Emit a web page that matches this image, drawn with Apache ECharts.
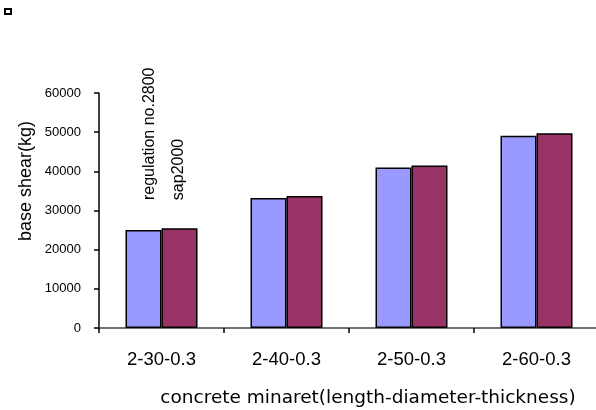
<!DOCTYPE html>
<html>
<head>
<meta charset="utf-8">
<script src="https://cdn.jsdelivr.net/npm/echarts@6/dist/echarts.min.js"></script>
<style>
  html, body { margin: 0; padding: 0; background: #fff; }
  #chart { width: 596px; height: 410px; }
</style>
</head>
<body>
<div id="chart"></div>
<script>
// Minaret configurations (length-diameter-thickness)
const categories = ['2-30-0.3', '2-40-0.3', '2-50-0.3', '2-60-0.3'];
// Base shear (kg) by method
const regulationValues = [25000, 33200, 41000, 49100];
const sapValues = [25500, 33700, 41500, 49700];
const seriesNames = ['regulation no.2800', 'sap2000'];
const yTicks = { min: 0, max: 60000, interval: 10000 };

const chart = echarts.init(document.getElementById('chart'), null, { renderer: 'canvas' });

// Series name is written vertically above the first bar of each series
function withNameLabel(values, distance, offset) {
  return values.map((v, i) => i === 0 ? {
    value: v,
    label: {
      show: true,
      formatter: '{a}',
      position: 'top',
      rotate: 90,
      align: 'left',
      verticalAlign: 'middle',
      distance: distance,
      offset: offset,
      fontFamily: 'Liberation Sans',
      fontSize: 16,
      color: '#000'
    }
  } : v);
}

const barStyle = (color) => ({ color: color, borderColor: '#000', borderWidth: 1.5 });

chart.setOption({
  animation: false,
  backgroundColor: '#fff',
  grid: { left: 99, top: 93, right: -3, bottom: 82, outerBoundsMode: 'none' },
  xAxis: {
    type: 'category',
    data: categories,
    axisLine: { lineStyle: { color: '#444', width: 1.5 } },
    axisTick: { show: true, length: 5, lineStyle: { color: '#000', width: 1.5 } },
    axisLabel: { color: '#000', fontFamily: 'Liberation Sans', fontSize: 18.5, margin: 22 }
  },
  yAxis: {
    type: 'value',
    min: yTicks.min,
    max: yTicks.max,
    interval: yTicks.interval,
    splitLine: { show: false },
    axisLine: { show: true, lineStyle: { color: '#000', width: 1.5 } },
    axisTick: { show: true, length: 5, lineStyle: { color: '#000', width: 1.5 } },
    axisLabel: {
      color: '#000',
      fontFamily: 'Liberation Sans',
      fontSize: 13,
      margin: 18,
      formatter: (v) => String(v)
    }
  },
  series: [
    {
      name: seriesNames[0],
      type: 'bar',
      barWidth: 36,
      barGap: '0%',
      itemStyle: barStyle('#9999FF'),
      data: withNameLabel(regulationValues, 30, [0, 6])
    },
    {
      name: seriesNames[1],
      type: 'bar',
      barWidth: 36,
      barGap: '0%',
      itemStyle: barStyle('#993366'),
      data: withNameLabel(sapValues, 28, [0, -1])
    }
  ],
  graphic: [
    {
      type: 'rect',
      shape: { x: 5, y: 9, width: 6, height: 5 },
      style: { fill: '#fff', stroke: '#000', lineWidth: 2 }
    },
    {
      type: 'text',
      x: 26, y: 181,
      rotation: Math.PI / 2,
      style: {
        text: 'base shear(kg)',
        fontFamily: 'Liberation Sans',
        fontSize: 18,
        fill: '#000',
        align: 'center',
        verticalAlign: 'middle'
      }
    },
    {
      type: 'text',
      x: 368, y: 398,
      style: {
        text: 'concrete minaret(length-diameter-thickness)',
        fontFamily: 'DejaVu Sans',
        fontSize: 18.5,
        fill: '#000',
        align: 'center',
        verticalAlign: 'middle'
      }
    }
  ]
});
</script>
</body>
</html>
